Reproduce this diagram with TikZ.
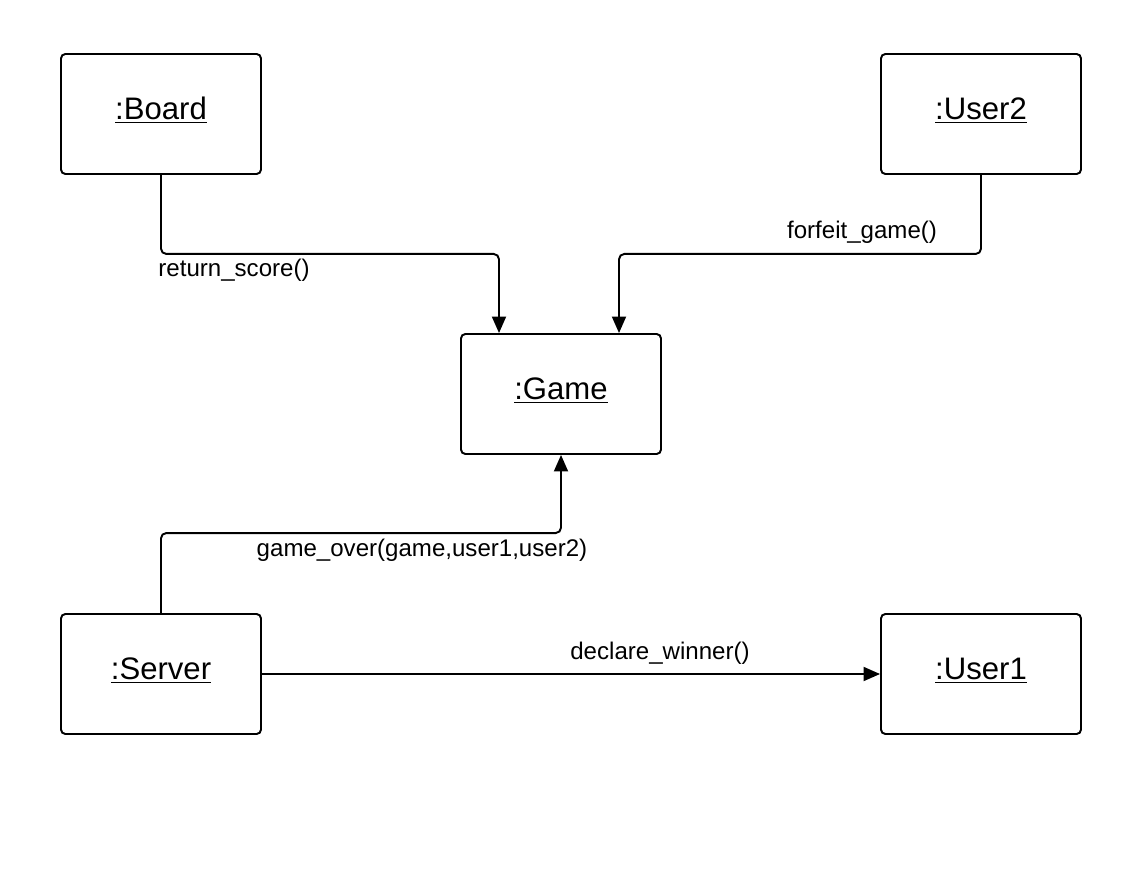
\documentclass[tikz,border=0pt]{standalone}
\usepackage{fontspec}
\setmainfont{Liberation Sans}
\usetikzlibrary{arrows.meta}

\tikzset{
  obj/.style={draw, line width=1.1pt, rounded corners=2.5pt, minimum width=4cm, minimum height=2.4cm, text depth=6pt, font=\fontsize{17.7}{21}\selectfont},
  msg/.style={line width=1.1pt, rounded corners=3pt, -{Triangle[length=0.33cm,width=0.28cm]}},
  lbl/.style={font=\fontsize{13.7}{16}\selectfont}
}

\begin{document}
\begin{tikzpicture}
  \useasboundingbox (0,0) rectangle (22.72,-17.56);

  % Objects
  \node[obj] (board) at (3.22,-2.28) {\underline{:Board}};
  \node[obj] (user2) at (19.62,-2.28) {\underline{:User2}};
  \node[obj] (game) at (11.22,-7.88) {\underline{:Game}};
  \node[obj] (server) at (3.22,-13.48) {\underline{:Server}};
  \node[obj] (user1) at (19.62,-13.48) {\underline{:User1}};

  % Messages
  \draw[msg] (board.south) -- ++(0,-1.58) -| ([xshift=-1.24cm]game.north);
  \draw[msg] (user2.south) -- ++(0,-1.58) -| ([xshift=1.16cm]game.north);
  \draw[msg] (server.north) -- ++(0,1.6) -| (game.south);
  \draw[msg] (server.east) -- (user1.west);

  % Labels
  \node[lbl] (lscore) at (4.68,-5.4) {return\_score()};
  \node[lbl] (lforfeit) at (17.24,-4.64) {forfeit\_game()};
  \node[lbl] (lover) at (8.44,-11.0) {game\_over(game,user1,user2)};
  \node[lbl] (lwinner) at (13.2,-13.06) {declare\_winner()};
\end{tikzpicture}
\end{document}
